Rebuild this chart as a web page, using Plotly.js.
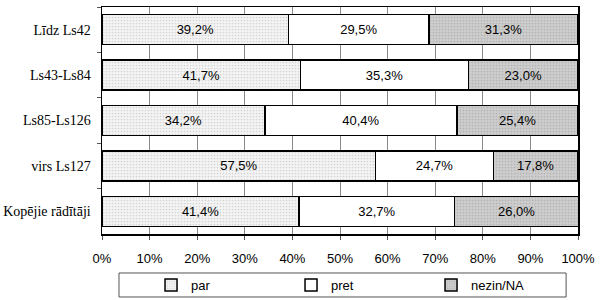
<!DOCTYPE html>
<html>
<head>
<meta charset="utf-8">
<script src="https://cdn.plot.ly/plotly-3.0.1.min.js"></script>
<style>html,body{margin:0;padding:0;background:#fff;}#chart{width:600px;height:300px;}</style>
</head>
<body>
<div id="chart"></div>
<script>
const categories = ["Līdz Ls42", "Ls43-Ls84", "Ls85-Ls126", "virs Ls127", "Kopējie rādītāji"];
const seriesNames = ["par", "pret", "nezin/NA"];
const parValues = [39.2, 41.7, 34.2, 57.5, 41.4];
const pretValues = [29.5, 35.3, 40.4, 24.7, 32.7];
const nezinValues = [31.3, 23.0, 25.4, 17.8, 26.0];
const xTickValues = [0, 10, 20, 30, 40, 50, 60, 70, 80, 90, 100];

const fmt = v => v.toFixed(1).replace('.', ',') + '%';
const fills = ['#efefef', '#ffffff', '#c8c8c8'];
const patterns = [
  {shape: '.', fgcolor: '#d4d4d4', bgcolor: '#f4f4f4', size: 3, solidity: 0.25},
  {shape: ''},
  {shape: '.', fgcolor: '#b4b4b4', bgcolor: '#cdcdcd', size: 3, solidity: 0.25}
];
const allValues = [parValues, pretValues, nezinValues];

const traces = allValues.map((vals, i) => ({
  type: 'bar',
  orientation: 'h',
  name: seriesNames[i],
  y: categories,
  x: vals,
  text: vals.map(fmt),
  textposition: 'inside',
  insidetextanchor: 'middle',
  textangle: 0,
  textfont: {family: 'Liberation Sans, Arial, sans-serif', size: 13, color: '#000'},
  hoverinfo: 'none',
  marker: {
    color: fills[i],
    pattern: patterns[i],
    line: {color: '#000', width: 1.5}
  }
}));

const layout = {
  width: 600, height: 300,
  margin: {l: 102, r: 22, t: 7, b: 66, pad: 0, autoexpand: false},
  paper_bgcolor: '#fff', plot_bgcolor: '#fff',
  barmode: 'stack',
  bargap: 0.34,
  showlegend: true,
  legend: {
    orientation: 'h',
    x: 0.103, xanchor: 'left',
    y: -0.159, yanchor: 'top',
    borderwidth: 0,
    bgcolor: 'rgba(0,0,0,0)',
    entrywidth: 95, entrywidthmode: 'pixels',
    itemwidth: 30,
    font: {family: 'Liberation Sans, Arial, sans-serif', size: 13, color: '#000'},
    traceorder: 'normal'
  },
  shapes: [{
    type: 'rect', xref: 'paper', yref: 'paper',
    x0: 0.0357, x1: 0.975, y0: -0.1718, y1: -0.2775,
    line: {color: '#555', width: 1}, fillcolor: 'rgba(0,0,0,0)', layer: 'below'
  }],
  xaxis: {
    range: [0, 100],
    tickvals: xTickValues,
    ticktext: xTickValues.map(v => v + '%'),
    showgrid: true, gridcolor: '#8a8a8a', gridwidth: 1,
    zeroline: false,
    showline: true, linecolor: '#000', linewidth: 1.5, mirror: true,
    ticks: 'outside', ticklen: 4, tickcolor: '#555',
    ticklabelstandoff: 8,
    tickfont: {family: 'Liberation Sans, Arial, sans-serif', size: 13, color: '#000'},
    fixedrange: true
  },
  yaxis: {
    autorange: 'reversed',
    type: 'category',
    tickson: 'boundaries',
    ticks: 'outside', ticklen: 4, tickcolor: '#555',
    showgrid: false, zeroline: false,
    showline: true, linecolor: '#000', linewidth: 1.5, mirror: true,
    ticklabelstandoff: 7,
    tickfont: {family: 'Liberation Serif, Times New Roman, serif', size: 14, color: '#000'},
    fixedrange: true
  }
};

Plotly.newPlot('chart', traces, layout, {displayModeBar: false, staticPlot: true});
</script>
</body>
</html>
